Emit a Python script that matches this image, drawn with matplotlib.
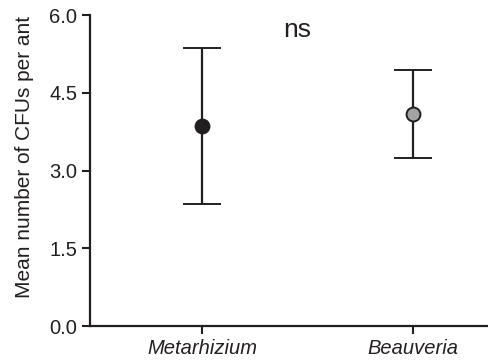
import matplotlib
matplotlib.use("Agg")
import matplotlib.pyplot as plt

# ----------------------------------------------------
# Data
# ----------------------------------------------------

groups = ["Metarhizium", "Beauveria"]
means = [3.86, 4.09]
upper = [5.36, 4.94]
lower = [2.35, 3.24]
face_colors = ["#231f20", "#a3a3a3"]

ink = "#231f20"

plt.rcParams["font.family"] = ["Liberation Sans", "DejaVu Sans"]

fig = plt.figure(figsize=(4.88, 3.6), dpi=100)
ax = fig.add_axes([0.184, 0.094, 0.816, 0.864])

for i, (m, hi, lo, fc) in enumerate(zip(means, upper, lower, face_colors)):
    ax.errorbar(
        i, m,
        yerr=[[m - lo], [hi - m]],
        fmt="o",
        color=ink,
        ecolor=ink,
        elinewidth=1.6,
        capsize=14,
        capthick=1.6,
        markersize=10,
        markerfacecolor=fc,
        markeredgecolor=ink,
        markeredgewidth=1.4,
        clip_on=False,
    )

# ns label
ax.text(0.45, 5.71, "ns", ha="center", va="center", fontsize=19, color=ink)

ax.set_xlim(-0.531, 1.355)
ax.set_ylim(0, 6.0)
ax.set_yticks([0.0, 1.5, 3.0, 4.5, 6.0])
ax.set_yticklabels(["0.0", "1.5", "3.0", "4.5", "6.0"])
ax.set_xticks([0, 1])
ax.set_xticklabels(groups, fontstyle="italic")

ax.set_ylabel("Mean number of CFUs per ant", fontsize=15, color=ink)
ax.yaxis.set_label_coords(-0.14, 0.543)

ax.tick_params(axis="both", direction="out", length=6, width=1.5,
               color=ink, labelsize=14.5, labelcolor=ink, pad=3)

for side in ["top", "right"]:
    ax.spines[side].set_visible(False)
for side in ["left", "bottom"]:
    ax.spines[side].set_linewidth(1.6)
    ax.spines[side].set_color(ink)

fig.savefig("out.png", dpi=100)
